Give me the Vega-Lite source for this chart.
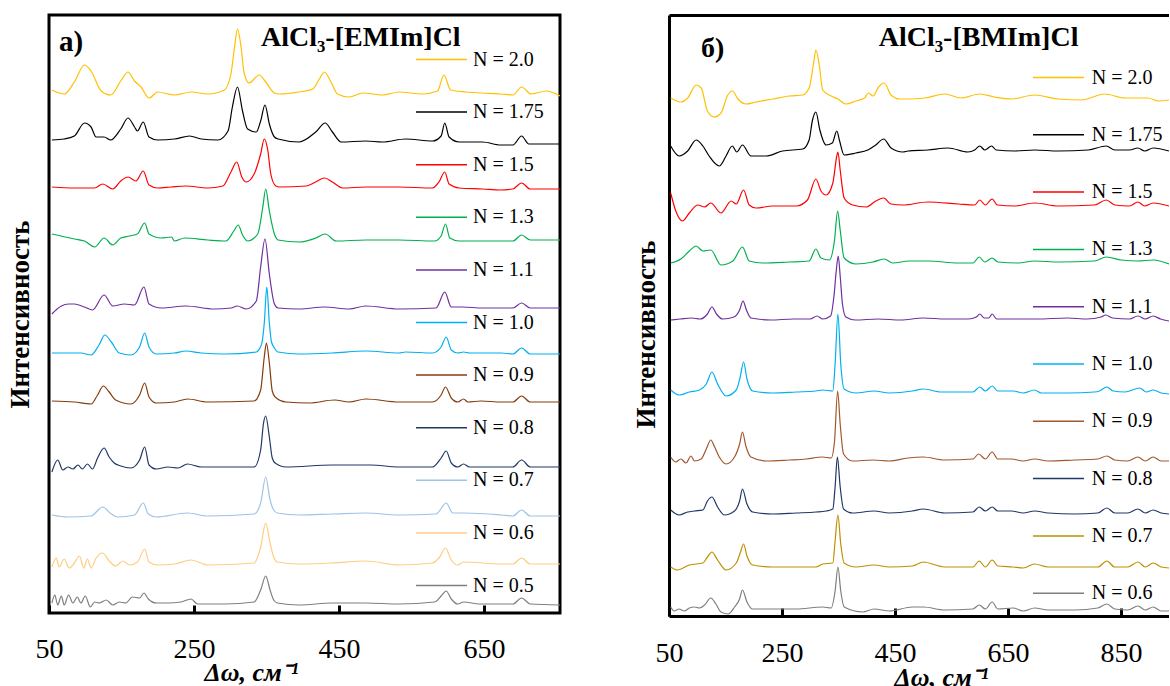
{
"$schema": "https://vega.github.io/schema/vega-lite/v6.json",
"background": "white",
"padding": {"left": 4, "top": 13, "right": 0, "bottom": 0},
"config": {"font": "Liberation Serif", "view": {"stroke": null}, "concat": {"spacing": 70}},
"datasets": {
"a": [
{"n":"N = 2.0","x":54,"y":523},{"n":"N = 2.0","x":71,"y":519},{"n":"N = 2.0","x":85,"y":531},{"n":"N = 2.0","x":99,"y":548},{"n":"N = 2.0","x":108,"y":542},{"n":"N = 2.0","x":122,"y":522},{"n":"N = 2.0","x":135,"y":518},{"n":"N = 2.0","x":149,"y":532},{"n":"N = 2.0","x":159,"y":541},{"n":"N = 2.0","x":168,"y":532},{"n":"N = 2.0","x":177,"y":526},{"n":"N = 2.0","x":188,"y":515},{"n":"N = 2.0","x":200,"y":521},{"n":"N = 2.0","x":223,"y":518},{"n":"N = 2.0","x":246,"y":521},{"n":"N = 2.0","x":269,"y":519},{"n":"N = 2.0","x":292,"y":523},{"n":"N = 2.0","x":301,"y":539},{"n":"N = 2.0","x":306,"y":566},{"n":"N = 2.0","x":310,"y":584},{"n":"N = 2.0","x":315,"y":566},{"n":"N = 2.0","x":319,"y":541},{"n":"N = 2.0","x":326,"y":530},{"n":"N = 2.0","x":340,"y":538},{"n":"N = 2.0","x":349,"y":531},{"n":"N = 2.0","x":361,"y":520},{"n":"N = 2.0","x":368,"y":519},{"n":"N = 2.0","x":395,"y":521},{"n":"N = 2.0","x":414,"y":524},{"n":"N = 2.0","x":423,"y":534},{"n":"N = 2.0","x":430,"y":541},{"n":"N = 2.0","x":439,"y":531},{"n":"N = 2.0","x":448,"y":519},{"n":"N = 2.0","x":464,"y":516},{"n":"N = 2.0","x":483,"y":520},{"n":"N = 2.0","x":510,"y":518},{"n":"N = 2.0","x":533,"y":521},{"n":"N = 2.0","x":565,"y":519},{"n":"N = 2.0","x":586,"y":522},{"n":"N = 2.0","x":595,"y":538},{"n":"N = 2.0","x":604,"y":523},{"n":"N = 2.0","x":625,"y":521},{"n":"N = 2.0","x":648,"y":520},{"n":"N = 2.0","x":673,"y":519},{"n":"N = 2.0","x":690,"y":518},{"n":"N = 2.0","x":702,"y":526},{"n":"N = 2.0","x":715,"y":519},{"n":"N = 2.0","x":736,"y":522},{"n":"N = 2.0","x":755,"y":517},
{"n":"N = 1.75","x":54,"y":473},{"n":"N = 1.75","x":71,"y":474},{"n":"N = 1.75","x":85,"y":477},{"n":"N = 1.75","x":99,"y":490},{"n":"N = 1.75","x":108,"y":486},{"n":"N = 1.75","x":115,"y":476},{"n":"N = 1.75","x":126,"y":476},{"n":"N = 1.75","x":135,"y":473},{"n":"N = 1.75","x":149,"y":484},{"n":"N = 1.75","x":159,"y":495},{"n":"N = 1.75","x":168,"y":486},{"n":"N = 1.75","x":172,"y":482},{"n":"N = 1.75","x":180,"y":491},{"n":"N = 1.75","x":188,"y":476},{"n":"N = 1.75","x":200,"y":473},{"n":"N = 1.75","x":223,"y":474},{"n":"N = 1.75","x":244,"y":477},{"n":"N = 1.75","x":260,"y":474},{"n":"N = 1.75","x":283,"y":473},{"n":"N = 1.75","x":297,"y":482},{"n":"N = 1.75","x":303,"y":506},{"n":"N = 1.75","x":310,"y":526},{"n":"N = 1.75","x":317,"y":502},{"n":"N = 1.75","x":324,"y":484},{"n":"N = 1.75","x":336,"y":481},{"n":"N = 1.75","x":342,"y":492},{"n":"N = 1.75","x":348,"y":508},{"n":"N = 1.75","x":354,"y":489},{"n":"N = 1.75","x":361,"y":476},{"n":"N = 1.75","x":366,"y":474},{"n":"N = 1.75","x":395,"y":471},{"n":"N = 1.75","x":418,"y":481},{"n":"N = 1.75","x":431,"y":490},{"n":"N = 1.75","x":441,"y":481},{"n":"N = 1.75","x":453,"y":471},{"n":"N = 1.75","x":487,"y":472},{"n":"N = 1.75","x":510,"y":471},{"n":"N = 1.75","x":542,"y":474},{"n":"N = 1.75","x":579,"y":472},{"n":"N = 1.75","x":591,"y":477},{"n":"N = 1.75","x":596,"y":490},{"n":"N = 1.75","x":602,"y":476},{"n":"N = 1.75","x":616,"y":471},{"n":"N = 1.75","x":648,"y":471},{"n":"N = 1.75","x":673,"y":468},{"n":"N = 1.75","x":690,"y":468},{"n":"N = 1.75","x":702,"y":477},{"n":"N = 1.75","x":712,"y":469},{"n":"N = 1.75","x":755,"y":469},
{"n":"N = 1.5","x":54,"y":426},{"n":"N = 1.5","x":85,"y":425},{"n":"N = 1.5","x":113,"y":425},{"n":"N = 1.5","x":124,"y":429},{"n":"N = 1.5","x":138,"y":424},{"n":"N = 1.5","x":149,"y":432},{"n":"N = 1.5","x":159,"y":436},{"n":"N = 1.5","x":170,"y":432},{"n":"N = 1.5","x":180,"y":442},{"n":"N = 1.5","x":188,"y":428},{"n":"N = 1.5","x":200,"y":425},{"n":"N = 1.5","x":218,"y":426},{"n":"N = 1.5","x":239,"y":427},{"n":"N = 1.5","x":269,"y":425},{"n":"N = 1.5","x":290,"y":427},{"n":"N = 1.5","x":301,"y":441},{"n":"N = 1.5","x":309,"y":451},{"n":"N = 1.5","x":316,"y":436},{"n":"N = 1.5","x":322,"y":431},{"n":"N = 1.5","x":333,"y":439},{"n":"N = 1.5","x":342,"y":459},{"n":"N = 1.5","x":347,"y":474},{"n":"N = 1.5","x":352,"y":462},{"n":"N = 1.5","x":356,"y":439},{"n":"N = 1.5","x":363,"y":427},{"n":"N = 1.5","x":368,"y":426},{"n":"N = 1.5","x":405,"y":427},{"n":"N = 1.5","x":418,"y":431},{"n":"N = 1.5","x":430,"y":435},{"n":"N = 1.5","x":441,"y":431},{"n":"N = 1.5","x":455,"y":425},{"n":"N = 1.5","x":487,"y":426},{"n":"N = 1.5","x":533,"y":426},{"n":"N = 1.5","x":579,"y":425},{"n":"N = 1.5","x":588,"y":431},{"n":"N = 1.5","x":596,"y":441},{"n":"N = 1.5","x":602,"y":429},{"n":"N = 1.5","x":616,"y":425},{"n":"N = 1.5","x":648,"y":424},{"n":"N = 1.5","x":673,"y":423},{"n":"N = 1.5","x":690,"y":424},{"n":"N = 1.5","x":702,"y":430},{"n":"N = 1.5","x":714,"y":424},{"n":"N = 1.5","x":755,"y":424},
{"n":"N = 1.3","x":54,"y":379},{"n":"N = 1.3","x":85,"y":374},{"n":"N = 1.3","x":99,"y":372},{"n":"N = 1.3","x":113,"y":366},{"n":"N = 1.3","x":126,"y":375},{"n":"N = 1.3","x":138,"y":368},{"n":"N = 1.3","x":149,"y":375},{"n":"N = 1.3","x":161,"y":377},{"n":"N = 1.3","x":172,"y":379},{"n":"N = 1.3","x":182,"y":390},{"n":"N = 1.3","x":188,"y":379},{"n":"N = 1.3","x":205,"y":375},{"n":"N = 1.3","x":219,"y":376},{"n":"N = 1.3","x":223,"y":372},{"n":"N = 1.3","x":237,"y":375},{"n":"N = 1.3","x":269,"y":373},{"n":"N = 1.3","x":294,"y":372},{"n":"N = 1.3","x":305,"y":382},{"n":"N = 1.3","x":311,"y":388},{"n":"N = 1.3","x":317,"y":378},{"n":"N = 1.3","x":324,"y":372},{"n":"N = 1.3","x":338,"y":379},{"n":"N = 1.3","x":345,"y":406},{"n":"N = 1.3","x":349,"y":424},{"n":"N = 1.3","x":354,"y":402},{"n":"N = 1.3","x":361,"y":379},{"n":"N = 1.3","x":366,"y":373},{"n":"N = 1.3","x":395,"y":371},{"n":"N = 1.3","x":418,"y":375},{"n":"N = 1.3","x":431,"y":379},{"n":"N = 1.3","x":446,"y":372},{"n":"N = 1.3","x":487,"y":373},{"n":"N = 1.3","x":533,"y":373},{"n":"N = 1.3","x":582,"y":372},{"n":"N = 1.3","x":591,"y":377},{"n":"N = 1.3","x":597,"y":389},{"n":"N = 1.3","x":603,"y":375},{"n":"N = 1.3","x":616,"y":372},{"n":"N = 1.3","x":673,"y":372},{"n":"N = 1.3","x":690,"y":372},{"n":"N = 1.3","x":702,"y":378},{"n":"N = 1.3","x":714,"y":373},{"n":"N = 1.3","x":755,"y":373},
{"n":"N = 1.1","x":54,"y":299},{"n":"N = 1.1","x":67,"y":307},{"n":"N = 1.1","x":77,"y":309},{"n":"N = 1.1","x":85,"y":309},{"n":"N = 1.1","x":99,"y":306},{"n":"N = 1.1","x":110,"y":303},{"n":"N = 1.1","x":126,"y":318},{"n":"N = 1.1","x":138,"y":307},{"n":"N = 1.1","x":154,"y":309},{"n":"N = 1.1","x":168,"y":308},{"n":"N = 1.1","x":181,"y":326},{"n":"N = 1.1","x":188,"y":309},{"n":"N = 1.1","x":205,"y":305},{"n":"N = 1.1","x":239,"y":307},{"n":"N = 1.1","x":278,"y":304},{"n":"N = 1.1","x":301,"y":305},{"n":"N = 1.1","x":310,"y":307},{"n":"N = 1.1","x":322,"y":304},{"n":"N = 1.1","x":336,"y":312},{"n":"N = 1.1","x":342,"y":346},{"n":"N = 1.1","x":348,"y":374},{"n":"N = 1.1","x":354,"y":339},{"n":"N = 1.1","x":361,"y":309},{"n":"N = 1.1","x":366,"y":305},{"n":"N = 1.1","x":395,"y":304},{"n":"N = 1.1","x":430,"y":306},{"n":"N = 1.1","x":464,"y":304},{"n":"N = 1.1","x":487,"y":307},{"n":"N = 1.1","x":533,"y":304},{"n":"N = 1.1","x":584,"y":305},{"n":"N = 1.1","x":596,"y":321},{"n":"N = 1.1","x":605,"y":306},{"n":"N = 1.1","x":621,"y":306},{"n":"N = 1.1","x":648,"y":305},{"n":"N = 1.1","x":673,"y":305},{"n":"N = 1.1","x":690,"y":305},{"n":"N = 1.1","x":702,"y":310},{"n":"N = 1.1","x":714,"y":305},{"n":"N = 1.1","x":755,"y":305},
{"n":"N = 1.0","x":54,"y":260},{"n":"N = 1.0","x":76,"y":260},{"n":"N = 1.0","x":94,"y":260},{"n":"N = 1.0","x":108,"y":258},{"n":"N = 1.0","x":119,"y":268},{"n":"N = 1.0","x":127,"y":278},{"n":"N = 1.0","x":136,"y":271},{"n":"N = 1.0","x":147,"y":260},{"n":"N = 1.0","x":163,"y":258},{"n":"N = 1.0","x":175,"y":266},{"n":"N = 1.0","x":182,"y":280},{"n":"N = 1.0","x":188,"y":266},{"n":"N = 1.0","x":198,"y":259},{"n":"N = 1.0","x":223,"y":260},{"n":"N = 1.0","x":239,"y":262},{"n":"N = 1.0","x":260,"y":260},{"n":"N = 1.0","x":292,"y":259},{"n":"N = 1.0","x":336,"y":261},{"n":"N = 1.0","x":341,"y":265},{"n":"N = 1.0","x":344,"y":271},{"n":"N = 1.0","x":347,"y":290},{"n":"N = 1.0","x":350.5,"y":326},{"n":"N = 1.0","x":354,"y":290},{"n":"N = 1.0","x":357,"y":271},{"n":"N = 1.0","x":361,"y":265},{"n":"N = 1.0","x":366,"y":261},{"n":"N = 1.0","x":395,"y":259},{"n":"N = 1.0","x":441,"y":260},{"n":"N = 1.0","x":487,"y":262},{"n":"N = 1.0","x":533,"y":260},{"n":"N = 1.0","x":542,"y":261},{"n":"N = 1.0","x":579,"y":260},{"n":"N = 1.0","x":591,"y":266},{"n":"N = 1.0","x":598,"y":276},{"n":"N = 1.0","x":605,"y":263},{"n":"N = 1.0","x":614,"y":260},{"n":"N = 1.0","x":622,"y":261},{"n":"N = 1.0","x":630,"y":260},{"n":"N = 1.0","x":674,"y":260},{"n":"N = 1.0","x":690,"y":259},{"n":"N = 1.0","x":702,"y":265},{"n":"N = 1.0","x":714,"y":259},{"n":"N = 1.0","x":755,"y":259},
{"n":"N = 0.9","x":54,"y":212},{"n":"N = 0.9","x":85,"y":211},{"n":"N = 0.9","x":108,"y":209},{"n":"N = 0.9","x":117,"y":218},{"n":"N = 0.9","x":125,"y":227},{"n":"N = 0.9","x":133,"y":221},{"n":"N = 0.9","x":142,"y":213},{"n":"N = 0.9","x":163,"y":209},{"n":"N = 0.9","x":175,"y":218},{"n":"N = 0.9","x":182,"y":230},{"n":"N = 0.9","x":188,"y":216},{"n":"N = 0.9","x":198,"y":210},{"n":"N = 0.9","x":223,"y":211},{"n":"N = 0.9","x":241,"y":214},{"n":"N = 0.9","x":269,"y":211},{"n":"N = 0.9","x":333,"y":212},{"n":"N = 0.9","x":342,"y":223},{"n":"N = 0.9","x":347,"y":256},{"n":"N = 0.9","x":350,"y":270},{"n":"N = 0.9","x":354,"y":250},{"n":"N = 0.9","x":358,"y":222},{"n":"N = 0.9","x":362,"y":216},{"n":"N = 0.9","x":377,"y":211},{"n":"N = 0.9","x":409,"y":210},{"n":"N = 0.9","x":444,"y":213},{"n":"N = 0.9","x":464,"y":211},{"n":"N = 0.9","x":487,"y":214},{"n":"N = 0.9","x":533,"y":211},{"n":"N = 0.9","x":579,"y":211},{"n":"N = 0.9","x":591,"y":218},{"n":"N = 0.9","x":597,"y":226},{"n":"N = 0.9","x":605,"y":215},{"n":"N = 0.9","x":614,"y":211},{"n":"N = 0.9","x":622,"y":214},{"n":"N = 0.9","x":628,"y":211},{"n":"N = 0.9","x":646,"y":212},{"n":"N = 0.9","x":674,"y":211},{"n":"N = 0.9","x":690,"y":211},{"n":"N = 0.9","x":702,"y":217},{"n":"N = 0.9","x":714,"y":211},{"n":"N = 0.9","x":755,"y":211},
{"n":"N = 0.8","x":54,"y":141},{"n":"N = 0.8","x":62,"y":153},{"n":"N = 0.8","x":69,"y":143},{"n":"N = 0.8","x":76,"y":146},{"n":"N = 0.8","x":83,"y":144},{"n":"N = 0.8","x":90,"y":148},{"n":"N = 0.8","x":96,"y":144},{"n":"N = 0.8","x":103,"y":149},{"n":"N = 0.8","x":110,"y":144},{"n":"N = 0.8","x":117,"y":155},{"n":"N = 0.8","x":126,"y":165},{"n":"N = 0.8","x":133,"y":156},{"n":"N = 0.8","x":140,"y":150},{"n":"N = 0.8","x":149,"y":147},{"n":"N = 0.8","x":163,"y":145},{"n":"N = 0.8","x":175,"y":153},{"n":"N = 0.8","x":182,"y":166},{"n":"N = 0.8","x":188,"y":148},{"n":"N = 0.8","x":198,"y":144},{"n":"N = 0.8","x":214,"y":146},{"n":"N = 0.8","x":228,"y":145},{"n":"N = 0.8","x":241,"y":149},{"n":"N = 0.8","x":260,"y":146},{"n":"N = 0.8","x":292,"y":146},{"n":"N = 0.8","x":333,"y":146},{"n":"N = 0.8","x":342,"y":163},{"n":"N = 0.8","x":346,"y":190},{"n":"N = 0.8","x":349,"y":197},{"n":"N = 0.8","x":354,"y":176},{"n":"N = 0.8","x":358,"y":155},{"n":"N = 0.8","x":362,"y":150},{"n":"N = 0.8","x":377,"y":146},{"n":"N = 0.8","x":441,"y":148},{"n":"N = 0.8","x":494,"y":148},{"n":"N = 0.8","x":533,"y":146},{"n":"N = 0.8","x":579,"y":146},{"n":"N = 0.8","x":591,"y":155},{"n":"N = 0.8","x":598,"y":162},{"n":"N = 0.8","x":605,"y":150},{"n":"N = 0.8","x":614,"y":146},{"n":"N = 0.8","x":622,"y":149},{"n":"N = 0.8","x":630,"y":146},{"n":"N = 0.8","x":674,"y":146},{"n":"N = 0.8","x":690,"y":146},{"n":"N = 0.8","x":702,"y":153},{"n":"N = 0.8","x":714,"y":146},{"n":"N = 0.8","x":755,"y":146},
{"n":"N = 0.7","x":54,"y":98},{"n":"N = 0.7","x":76,"y":96},{"n":"N = 0.7","x":108,"y":97},{"n":"N = 0.7","x":124,"y":106},{"n":"N = 0.7","x":136,"y":99},{"n":"N = 0.7","x":145,"y":96},{"n":"N = 0.7","x":168,"y":98},{"n":"N = 0.7","x":180,"y":110},{"n":"N = 0.7","x":187,"y":99},{"n":"N = 0.7","x":198,"y":96},{"n":"N = 0.7","x":241,"y":100},{"n":"N = 0.7","x":269,"y":97},{"n":"N = 0.7","x":333,"y":99},{"n":"N = 0.7","x":342,"y":110},{"n":"N = 0.7","x":349,"y":136},{"n":"N = 0.7","x":355,"y":113},{"n":"N = 0.7","x":360,"y":103},{"n":"N = 0.7","x":365,"y":100},{"n":"N = 0.7","x":395,"y":98},{"n":"N = 0.7","x":441,"y":99},{"n":"N = 0.7","x":487,"y":100},{"n":"N = 0.7","x":533,"y":98},{"n":"N = 0.7","x":584,"y":99},{"n":"N = 0.7","x":598,"y":110},{"n":"N = 0.7","x":607,"y":100},{"n":"N = 0.7","x":622,"y":100},{"n":"N = 0.7","x":674,"y":98},{"n":"N = 0.7","x":690,"y":97},{"n":"N = 0.7","x":702,"y":103},{"n":"N = 0.7","x":714,"y":97},{"n":"N = 0.7","x":755,"y":97},
{"n":"N = 0.6","x":54,"y":46},{"n":"N = 0.6","x":60,"y":55},{"n":"N = 0.6","x":64,"y":46},{"n":"N = 0.6","x":71,"y":54},{"n":"N = 0.6","x":78,"y":45},{"n":"N = 0.6","x":85,"y":50},{"n":"N = 0.6","x":92,"y":57},{"n":"N = 0.6","x":98,"y":45},{"n":"N = 0.6","x":103,"y":54},{"n":"N = 0.6","x":108,"y":45},{"n":"N = 0.6","x":115,"y":55},{"n":"N = 0.6","x":124,"y":60},{"n":"N = 0.6","x":133,"y":52},{"n":"N = 0.6","x":142,"y":47},{"n":"N = 0.6","x":152,"y":52},{"n":"N = 0.6","x":161,"y":48},{"n":"N = 0.6","x":172,"y":51},{"n":"N = 0.6","x":182,"y":64},{"n":"N = 0.6","x":188,"y":51},{"n":"N = 0.6","x":200,"y":48},{"n":"N = 0.6","x":223,"y":49},{"n":"N = 0.6","x":246,"y":53},{"n":"N = 0.6","x":269,"y":48},{"n":"N = 0.6","x":333,"y":50},{"n":"N = 0.6","x":342,"y":66},{"n":"N = 0.6","x":349,"y":90},{"n":"N = 0.6","x":355,"y":70},{"n":"N = 0.6","x":360,"y":56},{"n":"N = 0.6","x":365,"y":51},{"n":"N = 0.6","x":395,"y":49},{"n":"N = 0.6","x":441,"y":50},{"n":"N = 0.6","x":487,"y":52},{"n":"N = 0.6","x":533,"y":48},{"n":"N = 0.6","x":579,"y":50},{"n":"N = 0.6","x":589,"y":56},{"n":"N = 0.6","x":597,"y":65},{"n":"N = 0.6","x":605,"y":53},{"n":"N = 0.6","x":614,"y":48},{"n":"N = 0.6","x":622,"y":51},{"n":"N = 0.6","x":674,"y":49},{"n":"N = 0.6","x":690,"y":49},{"n":"N = 0.6","x":702,"y":55},{"n":"N = 0.6","x":714,"y":49},{"n":"N = 0.6","x":755,"y":49},
{"n":"N = 0.5","x":54,"y":10},{"n":"N = 0.5","x":58,"y":18},{"n":"N = 0.5","x":62,"y":8},{"n":"N = 0.5","x":67,"y":17},{"n":"N = 0.5","x":71,"y":8},{"n":"N = 0.5","x":77,"y":18},{"n":"N = 0.5","x":83,"y":10},{"n":"N = 0.5","x":89,"y":16},{"n":"N = 0.5","x":94,"y":10},{"n":"N = 0.5","x":100,"y":17},{"n":"N = 0.5","x":107,"y":6},{"n":"N = 0.5","x":113,"y":11},{"n":"N = 0.5","x":119,"y":10},{"n":"N = 0.5","x":129,"y":13},{"n":"N = 0.5","x":138,"y":8},{"n":"N = 0.5","x":147,"y":11},{"n":"N = 0.5","x":156,"y":10},{"n":"N = 0.5","x":165,"y":16},{"n":"N = 0.5","x":175,"y":15},{"n":"N = 0.5","x":181,"y":20},{"n":"N = 0.5","x":187,"y":14},{"n":"N = 0.5","x":198,"y":10},{"n":"N = 0.5","x":214,"y":10},{"n":"N = 0.5","x":232,"y":11},{"n":"N = 0.5","x":246,"y":14},{"n":"N = 0.5","x":255,"y":9},{"n":"N = 0.5","x":292,"y":9},{"n":"N = 0.5","x":333,"y":11},{"n":"N = 0.5","x":342,"y":23},{"n":"N = 0.5","x":349,"y":37},{"n":"N = 0.5","x":355,"y":23},{"n":"N = 0.5","x":360,"y":13},{"n":"N = 0.5","x":365,"y":10},{"n":"N = 0.5","x":395,"y":8},{"n":"N = 0.5","x":441,"y":10},{"n":"N = 0.5","x":487,"y":10},{"n":"N = 0.5","x":533,"y":9},{"n":"N = 0.5","x":582,"y":11},{"n":"N = 0.5","x":591,"y":17},{"n":"N = 0.5","x":598,"y":22},{"n":"N = 0.5","x":605,"y":14},{"n":"N = 0.5","x":614,"y":9},{"n":"N = 0.5","x":622,"y":11},{"n":"N = 0.5","x":644,"y":9},{"n":"N = 0.5","x":674,"y":9},{"n":"N = 0.5","x":690,"y":9},{"n":"N = 0.5","x":702,"y":15},{"n":"N = 0.5","x":714,"y":9},{"n":"N = 0.5","x":755,"y":8}
],
"b": [
{"n":"N = 2.0","x":53,"y":518},{"n":"N = 2.0","x":71,"y":514},{"n":"N = 2.0","x":83,"y":518},{"n":"N = 2.0","x":98,"y":531},{"n":"N = 2.0","x":107,"y":528},{"n":"N = 2.0","x":118,"y":505},{"n":"N = 2.0","x":130,"y":499},{"n":"N = 2.0","x":142,"y":503},{"n":"N = 2.0","x":154,"y":521},{"n":"N = 2.0","x":162,"y":525},{"n":"N = 2.0","x":172,"y":517},{"n":"N = 2.0","x":186,"y":512},{"n":"N = 2.0","x":204,"y":514},{"n":"N = 2.0","x":234,"y":517},{"n":"N = 2.0","x":263,"y":520},{"n":"N = 2.0","x":287,"y":521},{"n":"N = 2.0","x":298,"y":528},{"n":"N = 2.0","x":306,"y":553},{"n":"N = 2.0","x":310,"y":566},{"n":"N = 2.0","x":316,"y":551},{"n":"N = 2.0","x":322,"y":526},{"n":"N = 2.0","x":337,"y":520},{"n":"N = 2.0","x":349,"y":517},{"n":"N = 2.0","x":363,"y":512},{"n":"N = 2.0","x":381,"y":515},{"n":"N = 2.0","x":396,"y":518},{"n":"N = 2.0","x":403,"y":523},{"n":"N = 2.0","x":411,"y":520},{"n":"N = 2.0","x":421,"y":529},{"n":"N = 2.0","x":431,"y":533},{"n":"N = 2.0","x":443,"y":521},{"n":"N = 2.0","x":458,"y":517},{"n":"N = 2.0","x":473,"y":517},{"n":"N = 2.0","x":503,"y":518},{"n":"N = 2.0","x":538,"y":522},{"n":"N = 2.0","x":567,"y":518},{"n":"N = 2.0","x":600,"y":522},{"n":"N = 2.0","x":626,"y":519},{"n":"N = 2.0","x":656,"y":517},{"n":"N = 2.0","x":697,"y":521},{"n":"N = 2.0","x":739,"y":517},{"n":"N = 2.0","x":780,"y":516},{"n":"N = 2.0","x":821,"y":522},{"n":"N = 2.0","x":857,"y":518},{"n":"N = 2.0","x":898,"y":518},{"n":"N = 2.0","x":916,"y":515},{"n":"N = 2.0","x":935,"y":516},
{"n":"N = 1.75","x":53,"y":470},{"n":"N = 1.75","x":68,"y":460},{"n":"N = 1.75","x":83,"y":465},{"n":"N = 1.75","x":98,"y":476},{"n":"N = 1.75","x":110,"y":470},{"n":"N = 1.75","x":121,"y":460},{"n":"N = 1.75","x":139,"y":450},{"n":"N = 1.75","x":151,"y":460},{"n":"N = 1.75","x":162,"y":470},{"n":"N = 1.75","x":170,"y":464},{"n":"N = 1.75","x":180,"y":471},{"n":"N = 1.75","x":195,"y":460},{"n":"N = 1.75","x":222,"y":460},{"n":"N = 1.75","x":251,"y":465},{"n":"N = 1.75","x":287,"y":467},{"n":"N = 1.75","x":298,"y":476},{"n":"N = 1.75","x":304,"y":496},{"n":"N = 1.75","x":310,"y":504},{"n":"N = 1.75","x":317,"y":486},{"n":"N = 1.75","x":328,"y":471},{"n":"N = 1.75","x":339,"y":473},{"n":"N = 1.75","x":347,"y":485},{"n":"N = 1.75","x":352,"y":475},{"n":"N = 1.75","x":360,"y":461},{"n":"N = 1.75","x":381,"y":463},{"n":"N = 1.75","x":402,"y":466},{"n":"N = 1.75","x":416,"y":471},{"n":"N = 1.75","x":430,"y":477},{"n":"N = 1.75","x":443,"y":468},{"n":"N = 1.75","x":464,"y":464},{"n":"N = 1.75","x":473,"y":465},{"n":"N = 1.75","x":508,"y":466},{"n":"N = 1.75","x":544,"y":468},{"n":"N = 1.75","x":579,"y":464},{"n":"N = 1.75","x":591,"y":466},{"n":"N = 1.75","x":600,"y":470},{"n":"N = 1.75","x":609,"y":466},{"n":"N = 1.75","x":621,"y":470},{"n":"N = 1.75","x":629,"y":466},{"n":"N = 1.75","x":662,"y":465},{"n":"N = 1.75","x":697,"y":466},{"n":"N = 1.75","x":739,"y":465},{"n":"N = 1.75","x":792,"y":466},{"n":"N = 1.75","x":824,"y":470},{"n":"N = 1.75","x":839,"y":466},{"n":"N = 1.75","x":865,"y":466},{"n":"N = 1.75","x":880,"y":468},{"n":"N = 1.75","x":892,"y":465},{"n":"N = 1.75","x":907,"y":468},{"n":"N = 1.75","x":935,"y":465},
{"n":"N = 1.5","x":53,"y":423},{"n":"N = 1.5","x":62,"y":405},{"n":"N = 1.5","x":74,"y":395},{"n":"N = 1.5","x":86,"y":403},{"n":"N = 1.5","x":101,"y":411},{"n":"N = 1.5","x":113,"y":409},{"n":"N = 1.5","x":124,"y":413},{"n":"N = 1.5","x":142,"y":403},{"n":"N = 1.5","x":160,"y":415},{"n":"N = 1.5","x":169,"y":412},{"n":"N = 1.5","x":182,"y":426},{"n":"N = 1.5","x":192,"y":411},{"n":"N = 1.5","x":204,"y":408},{"n":"N = 1.5","x":234,"y":410},{"n":"N = 1.5","x":275,"y":410},{"n":"N = 1.5","x":295,"y":416},{"n":"N = 1.5","x":310,"y":437},{"n":"N = 1.5","x":319,"y":425},{"n":"N = 1.5","x":328,"y":421},{"n":"N = 1.5","x":340,"y":433},{"n":"N = 1.5","x":347,"y":460},{"n":"N = 1.5","x":349,"y":464},{"n":"N = 1.5","x":353,"y":446},{"n":"N = 1.5","x":360,"y":418},{"n":"N = 1.5","x":375,"y":411},{"n":"N = 1.5","x":399,"y":409},{"n":"N = 1.5","x":416,"y":415},{"n":"N = 1.5","x":430,"y":418},{"n":"N = 1.5","x":443,"y":412},{"n":"N = 1.5","x":464,"y":411},{"n":"N = 1.5","x":508,"y":414},{"n":"N = 1.5","x":562,"y":412},{"n":"N = 1.5","x":591,"y":411},{"n":"N = 1.5","x":600,"y":416},{"n":"N = 1.5","x":610,"y":411},{"n":"N = 1.5","x":622,"y":417},{"n":"N = 1.5","x":631,"y":411},{"n":"N = 1.5","x":662,"y":410},{"n":"N = 1.5","x":697,"y":413},{"n":"N = 1.5","x":739,"y":410},{"n":"N = 1.5","x":803,"y":411},{"n":"N = 1.5","x":824,"y":416},{"n":"N = 1.5","x":839,"y":411},{"n":"N = 1.5","x":865,"y":410},{"n":"N = 1.5","x":880,"y":414},{"n":"N = 1.5","x":892,"y":410},{"n":"N = 1.5","x":907,"y":413},{"n":"N = 1.5","x":935,"y":410},
{"n":"N = 1.3","x":53,"y":353},{"n":"N = 1.3","x":71,"y":357},{"n":"N = 1.3","x":86,"y":365},{"n":"N = 1.3","x":98,"y":370},{"n":"N = 1.3","x":110,"y":365},{"n":"N = 1.3","x":124,"y":366},{"n":"N = 1.3","x":142,"y":351},{"n":"N = 1.3","x":163,"y":355},{"n":"N = 1.3","x":180,"y":369},{"n":"N = 1.3","x":192,"y":355},{"n":"N = 1.3","x":216,"y":353},{"n":"N = 1.3","x":263,"y":354},{"n":"N = 1.3","x":298,"y":355},{"n":"N = 1.3","x":310,"y":367},{"n":"N = 1.3","x":319,"y":358},{"n":"N = 1.3","x":334,"y":356},{"n":"N = 1.3","x":343,"y":376},{"n":"N = 1.3","x":348.5,"y":405},{"n":"N = 1.3","x":353,"y":386},{"n":"N = 1.3","x":360,"y":358},{"n":"N = 1.3","x":381,"y":352},{"n":"N = 1.3","x":411,"y":354},{"n":"N = 1.3","x":431,"y":357},{"n":"N = 1.3","x":446,"y":353},{"n":"N = 1.3","x":475,"y":355},{"n":"N = 1.3","x":508,"y":355},{"n":"N = 1.3","x":562,"y":353},{"n":"N = 1.3","x":588,"y":353},{"n":"N = 1.3","x":599,"y":359},{"n":"N = 1.3","x":609,"y":354},{"n":"N = 1.3","x":622,"y":358},{"n":"N = 1.3","x":632,"y":354},{"n":"N = 1.3","x":668,"y":353},{"n":"N = 1.3","x":697,"y":355},{"n":"N = 1.3","x":739,"y":354},{"n":"N = 1.3","x":803,"y":355},{"n":"N = 1.3","x":824,"y":359},{"n":"N = 1.3","x":851,"y":356},{"n":"N = 1.3","x":880,"y":355},{"n":"N = 1.3","x":907,"y":356},{"n":"N = 1.3","x":935,"y":352},
{"n":"N = 1.1","x":53,"y":296},{"n":"N = 1.1","x":70,"y":297},{"n":"N = 1.1","x":90,"y":298},{"n":"N = 1.1","x":105,"y":297},{"n":"N = 1.1","x":118,"y":302},{"n":"N = 1.1","x":126,"y":309},{"n":"N = 1.1","x":134,"y":302},{"n":"N = 1.1","x":145,"y":297},{"n":"N = 1.1","x":165,"y":299},{"n":"N = 1.1","x":175,"y":306},{"n":"N = 1.1","x":181,"y":315},{"n":"N = 1.1","x":187,"y":306},{"n":"N = 1.1","x":195,"y":298},{"n":"N = 1.1","x":230,"y":296},{"n":"N = 1.1","x":270,"y":297},{"n":"N = 1.1","x":300,"y":297},{"n":"N = 1.1","x":312,"y":300},{"n":"N = 1.1","x":322,"y":297},{"n":"N = 1.1","x":336,"y":300},{"n":"N = 1.1","x":342,"y":320},{"n":"N = 1.1","x":346,"y":345},{"n":"N = 1.1","x":349.5,"y":360},{"n":"N = 1.1","x":353,"y":340},{"n":"N = 1.1","x":357,"y":312},{"n":"N = 1.1","x":363,"y":299},{"n":"N = 1.1","x":380,"y":296},{"n":"N = 1.1","x":420,"y":297},{"n":"N = 1.1","x":460,"y":296},{"n":"N = 1.1","x":500,"y":298},{"n":"N = 1.1","x":540,"y":297},{"n":"N = 1.1","x":580,"y":297},{"n":"N = 1.1","x":594,"y":299},{"n":"N = 1.1","x":600,"y":302},{"n":"N = 1.1","x":608,"y":298},{"n":"N = 1.1","x":616,"y":298},{"n":"N = 1.1","x":622,"y":302},{"n":"N = 1.1","x":630,"y":297},{"n":"N = 1.1","x":660,"y":297},{"n":"N = 1.1","x":700,"y":297},{"n":"N = 1.1","x":756,"y":298},{"n":"N = 1.1","x":790,"y":297},{"n":"N = 1.1","x":815,"y":299},{"n":"N = 1.1","x":823,"y":301},{"n":"N = 1.1","x":835,"y":298},{"n":"N = 1.1","x":865,"y":297},{"n":"N = 1.1","x":880,"y":300},{"n":"N = 1.1","x":893,"y":297},{"n":"N = 1.1","x":907,"y":300},{"n":"N = 1.1","x":920,"y":297},{"n":"N = 1.1","x":935,"y":295},
{"n":"N = 1.0","x":53,"y":226},{"n":"N = 1.0","x":68,"y":221},{"n":"N = 1.0","x":86,"y":224},{"n":"N = 1.0","x":104,"y":226},{"n":"N = 1.0","x":116,"y":232},{"n":"N = 1.0","x":126,"y":244},{"n":"N = 1.0","x":136,"y":232},{"n":"N = 1.0","x":151,"y":220},{"n":"N = 1.0","x":169,"y":226},{"n":"N = 1.0","x":176,"y":239},{"n":"N = 1.0","x":182,"y":254},{"n":"N = 1.0","x":188,"y":237},{"n":"N = 1.0","x":198,"y":225},{"n":"N = 1.0","x":234,"y":223},{"n":"N = 1.0","x":275,"y":224},{"n":"N = 1.0","x":310,"y":225},{"n":"N = 1.0","x":322,"y":226},{"n":"N = 1.0","x":340,"y":225},{"n":"N = 1.0","x":344,"y":252},{"n":"N = 1.0","x":349,"y":302},{"n":"N = 1.0","x":354,"y":252},{"n":"N = 1.0","x":360,"y":227},{"n":"N = 1.0","x":381,"y":223},{"n":"N = 1.0","x":413,"y":225},{"n":"N = 1.0","x":440,"y":223},{"n":"N = 1.0","x":481,"y":225},{"n":"N = 1.0","x":500,"y":227},{"n":"N = 1.0","x":532,"y":224},{"n":"N = 1.0","x":588,"y":224},{"n":"N = 1.0","x":600,"y":229},{"n":"N = 1.0","x":610,"y":225},{"n":"N = 1.0","x":622,"y":230},{"n":"N = 1.0","x":632,"y":225},{"n":"N = 1.0","x":659,"y":225},{"n":"N = 1.0","x":677,"y":223},{"n":"N = 1.0","x":697,"y":226},{"n":"N = 1.0","x":709,"y":223},{"n":"N = 1.0","x":756,"y":223},{"n":"N = 1.0","x":803,"y":224},{"n":"N = 1.0","x":812,"y":225},{"n":"N = 1.0","x":825,"y":229},{"n":"N = 1.0","x":836,"y":225},{"n":"N = 1.0","x":857,"y":224},{"n":"N = 1.0","x":883,"y":228},{"n":"N = 1.0","x":895,"y":224},{"n":"N = 1.0","x":907,"y":226},{"n":"N = 1.0","x":921,"y":223},{"n":"N = 1.0","x":935,"y":222},
{"n":"N = 0.9","x":53,"y":159},{"n":"N = 0.9","x":62,"y":154},{"n":"N = 0.9","x":71,"y":157},{"n":"N = 0.9","x":80,"y":153},{"n":"N = 0.9","x":89,"y":160},{"n":"N = 0.9","x":95,"y":155},{"n":"N = 0.9","x":107,"y":157},{"n":"N = 0.9","x":116,"y":167},{"n":"N = 0.9","x":124,"y":176},{"n":"N = 0.9","x":130,"y":170},{"n":"N = 0.9","x":139,"y":159},{"n":"N = 0.9","x":151,"y":152},{"n":"N = 0.9","x":166,"y":159},{"n":"N = 0.9","x":175,"y":172},{"n":"N = 0.9","x":180,"y":184},{"n":"N = 0.9","x":186,"y":170},{"n":"N = 0.9","x":195,"y":159},{"n":"N = 0.9","x":222,"y":155},{"n":"N = 0.9","x":263,"y":156},{"n":"N = 0.9","x":293,"y":157},{"n":"N = 0.9","x":322,"y":159},{"n":"N = 0.9","x":337,"y":158},{"n":"N = 0.9","x":343,"y":175},{"n":"N = 0.9","x":348.5,"y":225},{"n":"N = 0.9","x":353,"y":192},{"n":"N = 0.9","x":359,"y":162},{"n":"N = 0.9","x":375,"y":155},{"n":"N = 0.9","x":411,"y":156},{"n":"N = 0.9","x":440,"y":155},{"n":"N = 0.9","x":473,"y":158},{"n":"N = 0.9","x":500,"y":159},{"n":"N = 0.9","x":538,"y":156},{"n":"N = 0.9","x":588,"y":157},{"n":"N = 0.9","x":598,"y":162},{"n":"N = 0.9","x":610,"y":157},{"n":"N = 0.9","x":622,"y":164},{"n":"N = 0.9","x":632,"y":157},{"n":"N = 0.9","x":656,"y":157},{"n":"N = 0.9","x":677,"y":155},{"n":"N = 0.9","x":697,"y":157},{"n":"N = 0.9","x":721,"y":155},{"n":"N = 0.9","x":768,"y":156},{"n":"N = 0.9","x":809,"y":157},{"n":"N = 0.9","x":825,"y":160},{"n":"N = 0.9","x":839,"y":156},{"n":"N = 0.9","x":862,"y":155},{"n":"N = 0.9","x":880,"y":159},{"n":"N = 0.9","x":893,"y":155},{"n":"N = 0.9","x":907,"y":159},{"n":"N = 0.9","x":921,"y":155},{"n":"N = 0.9","x":935,"y":155},
{"n":"N = 0.8","x":53,"y":106},{"n":"N = 0.8","x":68,"y":101},{"n":"N = 0.8","x":83,"y":104},{"n":"N = 0.8","x":95,"y":105},{"n":"N = 0.8","x":110,"y":106},{"n":"N = 0.8","x":118,"y":115},{"n":"N = 0.8","x":126,"y":119},{"n":"N = 0.8","x":136,"y":109},{"n":"N = 0.8","x":148,"y":101},{"n":"N = 0.8","x":166,"y":105},{"n":"N = 0.8","x":175,"y":115},{"n":"N = 0.8","x":180,"y":127},{"n":"N = 0.8","x":188,"y":112},{"n":"N = 0.8","x":198,"y":104},{"n":"N = 0.8","x":234,"y":102},{"n":"N = 0.8","x":275,"y":103},{"n":"N = 0.8","x":310,"y":104},{"n":"N = 0.8","x":328,"y":105},{"n":"N = 0.8","x":340,"y":107},{"n":"N = 0.8","x":344,"y":129},{"n":"N = 0.8","x":348,"y":159},{"n":"N = 0.8","x":353,"y":129},{"n":"N = 0.8","x":359,"y":107},{"n":"N = 0.8","x":375,"y":103},{"n":"N = 0.8","x":413,"y":105},{"n":"N = 0.8","x":440,"y":103},{"n":"N = 0.8","x":481,"y":105},{"n":"N = 0.8","x":500,"y":107},{"n":"N = 0.8","x":538,"y":103},{"n":"N = 0.8","x":588,"y":104},{"n":"N = 0.8","x":599,"y":109},{"n":"N = 0.8","x":610,"y":105},{"n":"N = 0.8","x":622,"y":109},{"n":"N = 0.8","x":632,"y":105},{"n":"N = 0.8","x":656,"y":105},{"n":"N = 0.8","x":677,"y":103},{"n":"N = 0.8","x":697,"y":105},{"n":"N = 0.8","x":721,"y":103},{"n":"N = 0.8","x":768,"y":102},{"n":"N = 0.8","x":809,"y":103},{"n":"N = 0.8","x":825,"y":108},{"n":"N = 0.8","x":839,"y":103},{"n":"N = 0.8","x":862,"y":103},{"n":"N = 0.8","x":880,"y":107},{"n":"N = 0.8","x":893,"y":103},{"n":"N = 0.8","x":907,"y":106},{"n":"N = 0.8","x":921,"y":103},{"n":"N = 0.8","x":935,"y":102},
{"n":"N = 0.7","x":53,"y":49},{"n":"N = 0.7","x":65,"y":46},{"n":"N = 0.7","x":86,"y":51},{"n":"N = 0.7","x":110,"y":53},{"n":"N = 0.7","x":118,"y":59},{"n":"N = 0.7","x":126,"y":64},{"n":"N = 0.7","x":136,"y":56},{"n":"N = 0.7","x":151,"y":46},{"n":"N = 0.7","x":169,"y":53},{"n":"N = 0.7","x":176,"y":63},{"n":"N = 0.7","x":182,"y":72},{"n":"N = 0.7","x":188,"y":60},{"n":"N = 0.7","x":198,"y":51},{"n":"N = 0.7","x":234,"y":49},{"n":"N = 0.7","x":275,"y":49},{"n":"N = 0.7","x":310,"y":49},{"n":"N = 0.7","x":322,"y":52},{"n":"N = 0.7","x":340,"y":53},{"n":"N = 0.7","x":344,"y":75},{"n":"N = 0.7","x":349,"y":101},{"n":"N = 0.7","x":354,"y":72},{"n":"N = 0.7","x":360,"y":53},{"n":"N = 0.7","x":381,"y":49},{"n":"N = 0.7","x":413,"y":51},{"n":"N = 0.7","x":440,"y":49},{"n":"N = 0.7","x":481,"y":50},{"n":"N = 0.7","x":500,"y":54},{"n":"N = 0.7","x":538,"y":49},{"n":"N = 0.7","x":588,"y":49},{"n":"N = 0.7","x":599,"y":55},{"n":"N = 0.7","x":610,"y":49},{"n":"N = 0.7","x":622,"y":56},{"n":"N = 0.7","x":632,"y":50},{"n":"N = 0.7","x":659,"y":49},{"n":"N = 0.7","x":677,"y":48},{"n":"N = 0.7","x":697,"y":52},{"n":"N = 0.7","x":721,"y":49},{"n":"N = 0.7","x":768,"y":49},{"n":"N = 0.7","x":809,"y":49},{"n":"N = 0.7","x":825,"y":55},{"n":"N = 0.7","x":839,"y":49},{"n":"N = 0.7","x":862,"y":49},{"n":"N = 0.7","x":880,"y":54},{"n":"N = 0.7","x":893,"y":49},{"n":"N = 0.7","x":907,"y":53},{"n":"N = 0.7","x":921,"y":49},{"n":"N = 0.7","x":935,"y":48},
{"n":"N = 0.6","x":53,"y":9},{"n":"N = 0.6","x":59,"y":5},{"n":"N = 0.6","x":68,"y":7},{"n":"N = 0.6","x":77,"y":5},{"n":"N = 0.6","x":86,"y":8},{"n":"N = 0.6","x":95,"y":9},{"n":"N = 0.6","x":104,"y":8},{"n":"N = 0.6","x":113,"y":11},{"n":"N = 0.6","x":124,"y":18},{"n":"N = 0.6","x":133,"y":12},{"n":"N = 0.6","x":142,"y":4},{"n":"N = 0.6","x":155,"y":2},{"n":"N = 0.6","x":166,"y":9},{"n":"N = 0.6","x":175,"y":17},{"n":"N = 0.6","x":180,"y":26},{"n":"N = 0.6","x":188,"y":14},{"n":"N = 0.6","x":198,"y":7},{"n":"N = 0.6","x":234,"y":7},{"n":"N = 0.6","x":275,"y":7},{"n":"N = 0.6","x":322,"y":9},{"n":"N = 0.6","x":337,"y":8},{"n":"N = 0.6","x":344,"y":25},{"n":"N = 0.6","x":349,"y":49},{"n":"N = 0.6","x":354,"y":25},{"n":"N = 0.6","x":360,"y":9},{"n":"N = 0.6","x":393,"y":4},{"n":"N = 0.6","x":413,"y":7},{"n":"N = 0.6","x":440,"y":5},{"n":"N = 0.6","x":481,"y":9},{"n":"N = 0.6","x":500,"y":9},{"n":"N = 0.6","x":538,"y":6},{"n":"N = 0.6","x":588,"y":7},{"n":"N = 0.6","x":599,"y":11},{"n":"N = 0.6","x":610,"y":7},{"n":"N = 0.6","x":622,"y":14},{"n":"N = 0.6","x":632,"y":7},{"n":"N = 0.6","x":659,"y":8},{"n":"N = 0.6","x":677,"y":5},{"n":"N = 0.6","x":697,"y":8},{"n":"N = 0.6","x":721,"y":6},{"n":"N = 0.6","x":768,"y":6},{"n":"N = 0.6","x":809,"y":8},{"n":"N = 0.6","x":825,"y":12},{"n":"N = 0.6","x":839,"y":7},{"n":"N = 0.6","x":862,"y":6},{"n":"N = 0.6","x":880,"y":10},{"n":"N = 0.6","x":893,"y":6},{"n":"N = 0.6","x":907,"y":9},{"n":"N = 0.6","x":921,"y":5},{"n":"N = 0.6","x":935,"y":5}
]
},
"hconcat": [
{
"width": 511, "height": 598,
"view": {"stroke": "black", "strokeWidth": 3},
"layer": [
{"data": {"name": "a"},
 "mark": {"type": "line", "strokeWidth": 1.2, "clip": true, "interpolate": "monotone"},
 "encoding": {
  "x": {"field": "x", "type": "quantitative", "scale": {"domain": [50, 755], "nice": false, "zero": false},
   "axis": {"values": [50, 250, 450, 650], "domain": false, "grid": false, "ticks": true, "tickSize": -8, "tickWidth": 3, "tickColor": "black", "labelFont": "Liberation Serif", "labelFontSize": 28, "labelColor": "black", "labelPadding": 30, "labelFlush": false, "labelOverlap": false, "title": "Δω, см⁻¹", "titleFont": "Liberation Serif", "titleFontSize": 26, "titleFontWeight": "bold", "titleFontStyle": "italic", "titleColor": "black", "titleX": 202, "titleY": 67, "titleAlign": "center", "titleBaseline": "alphabetic"}},
  "y": {"field": "y", "type": "quantitative", "scale": {"domain": [0, 598], "nice": false, "zero": false},
   "axis": {"domain": false, "grid": false, "ticks": false, "labels": false, "title": "Интенсивность", "titleFont": "Liberation Serif", "titleFontSize": 27, "titleFontWeight": "bold", "titleColor": "black", "titleAngle": -90, "titleX": -21, "titleY": 299, "titleAlign": "center", "titleBaseline": "alphabetic"}},
  "color": {"field": "n", "type": "nominal",
   "scale": {"domain": ["N = 2.0","N = 1.75","N = 1.5","N = 1.3","N = 1.1","N = 1.0","N = 0.9","N = 0.8","N = 0.7","N = 0.6","N = 0.5"],
             "range": ["#FFC000","#000000","#FF0000","#00B050","#7030A0","#00B0F0","#843C0C","#1F3864","#9DC3E6","#FFCD82","#7F7F7F"]},
   "legend": {"orient": "none", "legendX": 366, "legendY": 18, "title": null, "symbolType": "stroke", "symbolSize": 2601, "symbolStrokeWidth": 1.5, "labelFont": "Liberation Serif", "labelFontSize": 20, "labelColor": "black", "labelOffset": 5, "rowPadding": 15.6, "labelLimit": 0, "padding": 0}}
 }},
{"data": {"values": [{}]},
 "mark": {"type": "text", "text": "a)", "align": "left", "baseline": "alphabetic", "font": "Liberation Serif", "fontSize": 29, "fontWeight": "bold", "color": "black"},
 "encoding": {"x": {"datum": 63.8, "type": "quantitative"}, "y": {"datum": 562, "type": "quantitative"}}},
{"data": {"values": [{}]},
 "mark": {"type": "text", "text": "AlCl₃-[EMIm]Cl", "align": "left", "baseline": "alphabetic", "font": "Liberation Serif", "fontSize": 28, "fontWeight": "bold", "color": "black"},
 "encoding": {"x": {"datum": 342.4, "type": "quantitative"}, "y": {"datum": 567, "type": "quantitative"}}}
]
},
{
"width": 500, "height": 601,
"layer": [
{"data": {"name": "b"},
 "mark": {"type": "line", "strokeWidth": 1.2, "clip": true, "interpolate": "monotone"},
 "encoding": {
  "x": {"field": "x", "type": "quantitative", "scale": {"domain": [50, 935], "nice": false, "zero": false},
   "axis": {"values": [50, 250, 450, 650, 850], "domain": true, "domainColor": "black", "domainWidth": 3, "grid": false, "ticks": true, "tickSize": -8, "tickWidth": 3, "tickColor": "black", "labelFont": "Liberation Serif", "labelFontSize": 28, "labelColor": "black", "labelPadding": 31, "labelFlush": false, "labelOverlap": false, "title": "Δω, см⁻¹", "titleFont": "Liberation Serif", "titleFontSize": 26, "titleFontWeight": "bold", "titleFontStyle": "italic", "titleColor": "black", "titleX": 272, "titleY": 69, "titleAlign": "center", "titleBaseline": "alphabetic"}},
  "y": {"field": "y", "type": "quantitative", "scale": {"domain": [0, 601], "nice": false, "zero": false},
   "axis": {"values": [601], "domain": true, "domainColor": "black", "domainWidth": 3, "grid": true, "gridColor": "black", "gridWidth": 3, "gridOpacity": 1, "ticks": false, "labels": false, "title": "Интенсивность", "titleFont": "Liberation Serif", "titleFontSize": 27, "titleFontWeight": "bold", "titleColor": "black", "titleAngle": -90, "titleX": -15, "titleY": 319, "titleAlign": "center", "titleBaseline": "alphabetic"}},
  "color": {"field": "n", "type": "nominal",
   "scale": {"domain": ["N = 2.0","N = 1.75","N = 1.5","N = 1.3","N = 1.1","N = 1.0","N = 0.9","N = 0.8","N = 0.7","N = 0.6"],
             "range": ["#FFC000","#000000","#FF0000","#00B050","#7030A0","#00B0F0","#A0582E","#1F3864","#BF9000","#7F7F7F"]},
   "legend": {"orient": "none", "legendX": 363, "legendY": 36, "title": null, "symbolType": "stroke", "symbolSize": 2601, "symbolStrokeWidth": 1.5, "labelFont": "Liberation Serif", "labelFontSize": 20, "labelColor": "black", "labelOffset": 6.7, "rowPadding": 20.3, "labelLimit": 0, "padding": 0}}
 }},
{"data": {"values": [{}]},
 "mark": {"type": "text", "text": "б)", "align": "left", "baseline": "alphabetic", "font": "Liberation Serif", "fontSize": 28, "fontWeight": "bold", "color": "black"},
 "encoding": {"x": {"datum": 106.6, "type": "quantitative"}, "y": {"datum": 559, "type": "quantitative"}}},
{"data": {"values": [{}]},
 "mark": {"type": "text", "text": "AlCl₃-[BMIm]Cl", "align": "left", "baseline": "alphabetic", "font": "Liberation Serif", "fontSize": 28, "fontWeight": "bold", "color": "black"},
 "encoding": {"x": {"datum": 421.2, "type": "quantitative"}, "y": {"datum": 569.7, "type": "quantitative"}}}
]
}
],
"resolve": {"scale": {"color": "independent"}, "legend": {"color": "independent"}}
}
